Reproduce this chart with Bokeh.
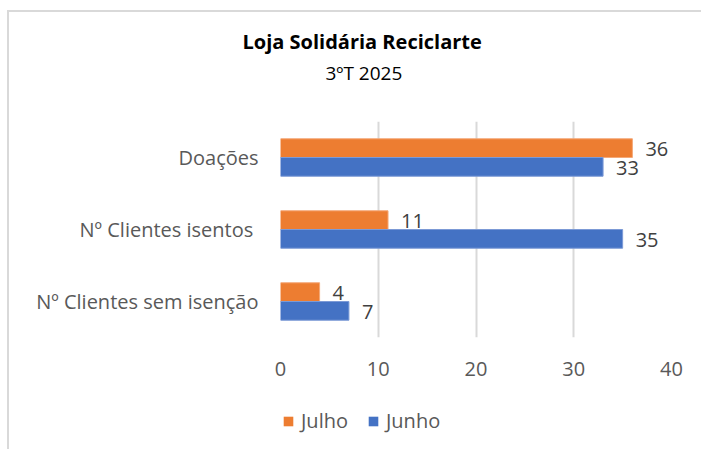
from bokeh.plotting import figure
from bokeh.layouts import column, row
from bokeh.models import (ColumnDataSource, FactorRange, Range1d, Legend, LegendItem,
                          LabelSet, FixedTicker, Title, Spacer)
from bokeh.transform import dodge
from bokeh.embed import file_html
from bokeh.resources import INLINE
from bokeh.core.properties import value

# ---- data ----
categories = ["Nº Clientes sem isenção", "Nº  Clientes isentos", "Doações"]
julho = [4, 11, 36]
junho = [7, 35, 33]
series_names = ["Julho", "Junho"]
x_ticks = [0, 10, 20, 30, 40]
title_text = "Loja Solidária Reciclarte"
subtitle_text = "3ºT 2025"

ORANGE = "#ED7D31"
BLUE = "#4472C4"
GREY = "#595959"
BORDER = "2px solid #d9d9d9"
FONT = "Open Sans"

src = ColumnDataSource(dict(
    cat=categories,
    julho=julho,
    junho=junho,
    julho_lbl=[str(v) for v in julho],
    junho_lbl=[str(v) for v in junho],
))

# ---------------- main chart ----------------
p = figure(width=694, height=385,
           y_range=FactorRange(*categories, range_padding=0),
           x_range=Range1d(0, 40),
           output_backend="svg", toolbar_location=None,
           min_border_left=271, min_border_right=32,
           min_border_top=109, min_border_bottom=60)
p.styles = {"border-left": BORDER, "border-top": BORDER}

bh = 0.26
p.hbar(y=dodge("cat", 0.13, range=p.y_range), right="julho", left=0, height=bh,
       source=src, fill_color=ORANGE, line_color="#f4a878", line_width=1)
p.hbar(y=dodge("cat", -0.13, range=p.y_range), right="junho", left=0, height=bh,
       source=src, fill_color=BLUE, line_color="#7c9ad6", line_width=1)

lbl_kw = dict(text_font=value(FONT), text_font_size="20px", text_color="#404040",
              text_baseline="middle", text_align="left", x_offset=13, y_offset=-1)
p.add_layout(LabelSet(x="julho", y=dodge("cat", 0.13, range=p.y_range), text="julho_lbl",
                      source=src, **lbl_kw))
p.add_layout(LabelSet(x="junho", y=dodge("cat", -0.13, range=p.y_range), text="junho_lbl",
                      source=src, **lbl_kw))

p.outline_line_color = None
p.ygrid.visible = False
p.xgrid.grid_line_color = "#d9d9d9"
p.xgrid.grid_line_width = 2
p.xaxis.ticker = FixedTicker(ticks=x_ticks)
for ax in (p.xaxis, p.yaxis):
    ax.axis_line_color = None
    ax.major_tick_line_color = None
    ax.minor_tick_line_color = None
    ax.major_tick_out = 0
    ax.major_tick_in = 0
    ax.major_label_text_font = FONT
    ax.major_label_text_color = GREY
p.xaxis.major_label_text_font_size = "20px"
p.xaxis.major_label_standoff = 24
p.yaxis.major_label_text_font_size = "20px"
p.yaxis.major_label_standoff = 22

# titles (first added is closest to the frame)
p.add_layout(Title(text=" ", text_font_size="1px", standoff=33), "above")
p.add_layout(Title(text=subtitle_text, align="left", offset=45, standoff=0,
                   text_font=FONT, text_font_size="19px", text_font_style="normal",
                   text_color="#000000"), "above")
p.add_layout(Title(text=title_text, align="left", offset=-38, standoff=6,
                   text_font=FONT, text_font_size="20px", text_font_style="bold",
                   text_color="#000000"), "above")

# ---------------- legend strip ----------------
pl = figure(width=694, height=54, x_range=Range1d(-2, -1), y_range=FactorRange(*categories),
            output_backend="svg", toolbar_location=None,
            x_axis_type=None, y_axis_type=None, min_border=0)
pl.styles = {"border-left": BORDER}
pl.outline_line_color = None
pl.grid.visible = False
lr_jul = pl.hbar(y="cat", right="julho", left=0, height=bh, source=src,
                 fill_color=ORANGE, line_color=None)
lr_jun = pl.hbar(y="cat", right="junho", left=0, height=bh, source=src,
                 fill_color=BLUE, line_color=None)
legend = Legend(items=[LegendItem(label=series_names[0], renderers=[lr_jul]),
                       LegendItem(label=series_names[1], renderers=[lr_jun])],
                orientation="horizontal", location=(273, 15),
                glyph_width=12, glyph_height=12, label_standoff=7, spacing=19,
                padding=0, margin=0, border_line_color=None, background_fill_alpha=0,
                label_text_font=FONT, label_text_font_size="20px", label_text_color=GREY)
pl.add_layout(legend, "center")

layout = column(Spacer(height=10),
                row(Spacer(width=7), p),
                row(Spacer(width=7), pl))

open("out.html", "w").write(file_html(layout, INLINE))
